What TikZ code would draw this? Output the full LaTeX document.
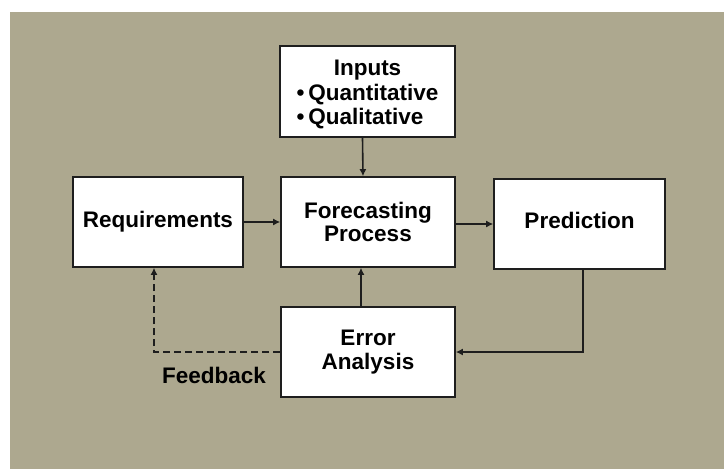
\documentclass[tikz,border=0pt]{standalone}
\usepackage{fontspec}
\setmainfont{Liberation Sans}
\usetikzlibrary{arrows.meta,calc}
\definecolor{panel}{RGB}{173,168,143}
\definecolor{edge}{RGB}{30,30,30}
\tikzset{
  box/.style={draw=edge, line width=1.6pt, fill=white, inner sep=0pt,
    align=center, font=\fontsize{22.5}{23.5}\selectfont\bfseries},
  link/.style={draw=edge, line width=1.6pt, -{Latex[length=7pt,width=7pt]}},
  fb/.style={link, dash pattern=on 7pt off 4pt},
  lbl/.style={font=\fontsize{22.5}{24}\selectfont\bfseries}
}
\begin{document}
\begin{tikzpicture}[x=1pt,y=-1pt]
  % page and coloured panel
  \fill[white] (0,0) rectangle (724,469);
  \fill[panel] (10,12) rectangle (724,469);
  \useasboundingbox (0,0) rectangle (724,469);

  % blocks
  \node[box, minimum width=175pt, minimum height=91pt] (inp) at (367.5,91.5)
    {\raisebox{-4pt}[\height][\depth]{\begin{tabular}{@{}l@{}}\multicolumn{1}{@{}c@{}}{Inputs}\\[1pt]
      \textbullet\,Quantitative\\[1pt] \textbullet\,Qualitative\end{tabular}}};
  \node[box, minimum width=170pt, minimum height=90pt] (req) at (158,222) {Requirements};
  \node[box, minimum width=174pt, minimum height=90pt] (fc) at (368,222) {Forecasting\\Process};
  \node[box, minimum width=171pt, minimum height=90pt] (pred) at (579.5,224) {\raisebox{8pt}{Prediction}};
  \node[box, minimum width=174pt, minimum height=90pt] (err) at (368,352) {Error\\Analysis};

  % connectors
  \draw[link] ([xshift=-5pt]inp.south) -- ([xshift=-5pt]fc.north);
  \draw[link] (req.east) -- (fc.west);
  \draw[link] ([yshift=-2pt]fc.east) -- ([yshift=-2pt]fc.east -| pred.west);
  \draw[link] ([xshift=-7pt]err.north) -- ([xshift=-7pt]fc.south);
  \draw[link] ([xshift=3.5pt]pred.south) |- (err.east);
  \draw[fb] (err.west) -| ([xshift=-4pt]req.south);

  \node[lbl] (fbl) at (214,375) {Feedback};
\end{tikzpicture}
\end{document}
